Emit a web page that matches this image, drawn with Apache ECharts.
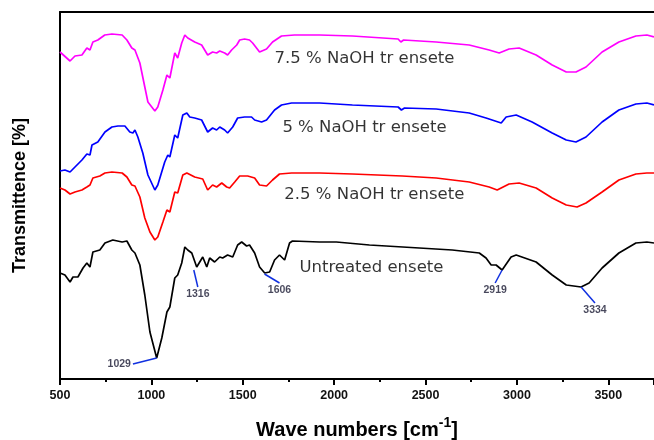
<!DOCTYPE html>
<html>
<head>
<meta charset="utf-8">
<script src="https://cdn.jsdelivr.net/npm/echarts@6/dist/echarts.min.js"></script>
<style>html,body{margin:0;padding:0;background:#fff}#c{width:654px;height:440px}</style>
</head>
<body>
<div id="c"></div>
<script>
// Wavenumber (cm-1) and relative transmittance (arbitrary offset units)
const magenta75 = [[500,327],[555,318],[582,323],[620,324],[647,331],[664,329],[680,337],[707,339],[745,344],[784,345],[840,344],[866,339],[893,331],[910,329],[937,316],[964,292],[981,277],[1019,268],[1029,267],[1035,272],[1063,289],[1085,304],[1101,301],[1128,326],[1144,321],[1166,336],[1183,344],[1199,341],[1237,337],[1275,334],[1308,324],[1335,327],[1357,326],[1374,328],[1401,326],[1417,324],[1439,329],[1467,334],[1483,339],[1510,340],[1537,339],[1554,336],[1592,327],[1630,330],[1663,337],[1712,343],[1783,344],[1920,344],[2100,343],[2350,340],[2365,337],[2380,339],[2558,337],[2739,334],[2848,329],[2903,326],[2957,330],[3012,331],[3105,324],[3193,314],[3270,307],[3323,307],[3378,312],[3466,327],[3558,337],[3651,343],[3711,344],[3750,342]];
const blue5 = [[500,208],[527,209],[555,207],[582,212],[620,219],[647,225],[664,224],[675,234],[707,237],[746,247],[784,252],[817,253],[855,253],[882,247],[899,246],[910,249],[926,242],[953,226],[981,204],[1019,189],[1029,188],[1035,194],[1073,217],[1090,224],[1101,222],[1128,244],[1144,241],[1172,264],[1194,266],[1210,262],[1237,261],[1275,259],[1308,247],[1335,251],[1357,249],[1374,252],[1401,249],[1417,246],[1445,252],[1472,261],[1510,262],[1548,262],[1565,259],[1603,257],[1630,259],[1674,269],[1712,274],[1767,276],[1920,276],[2100,274],[2350,272],[2368,269],[2385,271],[2558,270],[2739,266],[2831,261],[2914,256],[2941,262],[2996,264],[3083,257],[3193,246],[3270,239],[3323,237],[3378,242],[3466,257],[3558,269],[3651,275],[3711,276],[3750,274]];
const red25 = [[500,191],[527,189],[555,185],[582,187],[620,189],[647,192],[664,194],[680,201],[718,203],[746,206],[784,207],[840,206],[866,202],[893,194],[910,193],[937,182],[964,161],[992,147],[1019,139],[1029,138],[1035,142],[1063,157],[1085,169],[1101,167],[1128,187],[1144,186],[1172,204],[1194,206],[1237,202],[1281,200],[1308,189],[1335,194],[1357,192],[1385,196],[1412,192],[1428,191],[1456,197],[1483,203],[1527,203],[1565,201],[1592,194],[1630,193],[1663,199],[1701,205],[1767,206],[1920,206],[2100,205],[2373,203],[2558,201],[2739,197],[2848,192],[2892,189],[2957,195],[3012,196],[3105,191],[3193,181],[3270,174],[3329,172],[3378,176],[3466,187],[3558,199],[3651,205],[3711,206],[3750,206]];
const untreated = [[500,106],[527,104],[555,97],[571,102],[598,102],[626,111],[647,116],[664,112],[680,127],[718,129],[746,136],[789,139],[840,137],[866,138],[893,129],[910,126],[937,114],[964,84],[992,47],[1029,21],[1057,41],[1085,67],[1101,72],[1128,101],[1144,104],[1166,116],[1183,132],[1199,129],[1221,126],[1248,112],[1281,122],[1303,112],[1319,121],[1346,117],[1374,122],[1390,121],[1417,124],[1445,122],[1472,134],[1494,137],[1521,133],[1537,134],[1565,126],[1592,112],[1620,106],[1647,107],[1674,119],[1701,124],[1729,119],[1756,136],[1772,138],[1920,137],[2012,137],[2193,134],[2466,131],[2646,129],[2794,126],[2831,121],[2859,114],[2886,114],[2919,109],[2968,122],[2996,124],[3105,117],[3193,104],[3270,94],[3351,92],[3395,96],[3466,111],[3558,126],[3651,136],[3711,137],[3750,136]];

const seriesNames = ['7.5 % NaOH tr ensete','5 % NaOH tr ensete','2.5 % NaOH tr ensete','Untreated ensete'];
const seriesColors = ['#ff00ff','#0000ff','#ff0000','#000000'];
const seriesLabelPos = [[2166,320],[2166,251],[2220,184],[2204,111]];

// Peak annotations: text, point on curve, end of leader line
const peakText = ['1029','1316','1606','2919','3334'];
const peakFrom = [[1029,21],[1232,109],[1619,105],[2919,109],[3351,92]];
const peakTo = [[899,15],[1254,92],[1701,96],[2881,96],[3427,76]];
const peakLabelPos = ['left','bottom','bottom','bottom','bottom'];

const xTicks = [500,1000,1500,2000,2500,3000,3500];

const chart = echarts.init(document.getElementById('c'));
const curves = [magenta75, blue5, red25, untreated];
const series = curves.map((d,i)=>({
  type:'line', name:seriesNames[i], data:d, showSymbol:false, symbol:'none',
  lineStyle:{color:seriesColors[i], width:1.7}, z:3, animation:false
}));
peakText.forEach((t,i)=>{
  series.push({
    type:'line', data:[peakFrom[i], peakTo[i]],
    symbol:'none', lineStyle:{color:'#1030e0', width:1.5}, z:4, animation:false
  });
});
series.push({
  type:'scatter', symbol:'circle', symbolSize:0, animation:false, z:6,
  data: peakTo.map((p,i)=>({value:p, label:{show:true, position:peakLabelPos[i], distance:2, formatter:peakText[i]}})),
  label:{fontFamily:'Liberation Sans', fontWeight:'bold', fontSize:10.5, color:'#1a1a33'}
});
series.push({
  type:'scatter', symbol:'circle', symbolSize:0, animation:false, z:5,
  data: seriesLabelPos.map((p,i)=>({value:p, label:{show:true, position:'inside', formatter:seriesNames[i]}})),
  label:{fontFamily:'DejaVu Sans', fontSize:16.5, color:'#000'}
});

chart.setOption({
  animation:false,
  grid:{left:60, right:0, top:12, bottom:61, outerBoundsMode:'none', containLabel:false},
  xAxis:[{
    type:'value', min:500, max:3750, interval:500,
    name:'{b|Wave numbers [cm}{s|-1}{b|]}', nameLocation:'middle', nameGap:37,
    nameTextStyle:{rich:{
      b:{fontFamily:'Liberation Sans', fontWeight:'bold', fontSize:20, color:'#000', verticalAlign:'bottom', lineHeight:24},
      s:{fontFamily:'Liberation Sans', fontWeight:'bold', fontSize:14, color:'#000', verticalAlign:'top', lineHeight:24}
    }},
    axisLine:{show:true, onZero:false, lineStyle:{color:'#000', width:2}},
    axisTick:{show:true, inside:false, length:6, lineStyle:{color:'#000', width:2}},
    minorTick:{show:true, splitNumber:2, length:3, lineStyle:{color:'#000', width:2}},
    axisLabel:{show:true, fontFamily:'Liberation Sans', fontWeight:'bold', fontSize:12.5, color:'#111', margin:10,
      formatter:v=> (xTicks.indexOf(v)>=0 ? String(v) : '')},
    splitLine:{show:false}
  },{
    type:'value', position:'top', min:500, max:3750,
    axisLine:{show:true, onZero:false, lineStyle:{color:'#000', width:2}},
    axisTick:{show:false}, axisLabel:{show:false}, splitLine:{show:false}
  }],
  yAxis:{
    type:'value', min:0, max:367,
    name:'Transmittence [%]', nameLocation:'middle', nameGap:31, nameRotate:90,
    nameTextStyle:{fontFamily:'Liberation Sans', fontWeight:'bold', fontSize:18, color:'#000'},
    axisLine:{show:true, onZero:false, lineStyle:{color:'#000', width:2}},
    axisTick:{show:false}, axisLabel:{show:false}, splitLine:{show:false}
  },
  series:series
});
</script>
</body>
</html>
